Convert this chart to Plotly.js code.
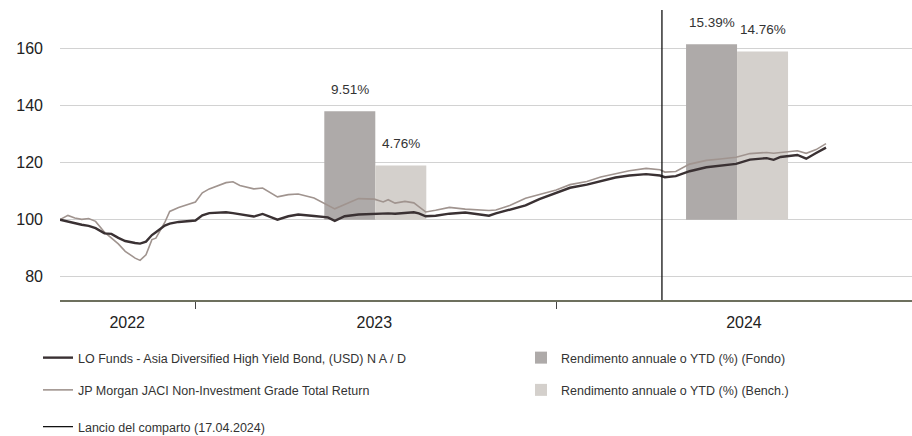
<!DOCTYPE html>
<html>
<head>
<meta charset="utf-8">
<script src="https://cdn.plot.ly/plotly-3.0.1.min.js"></script>
<style>
  html, body { margin: 0; padding: 0; background: #fff; }
  #chart { width: 912px; height: 436px; }
</style>
</head>
<body>
<div id="chart"></div>
<script>
// ---- data ----
const lineDates = ['2022-08-17','2022-08-25','2022-09-01','2022-09-08','2022-09-15','2022-09-22','2022-10-01','2022-10-08','2022-10-15','2022-10-22','2022-11-01','2022-11-06','2022-11-12','2022-11-18','2022-11-22','2022-12-01','2022-12-06','2022-12-15','2023-01-01','2023-01-08','2023-01-15','2023-02-01','2023-02-08','2023-02-15','2023-03-01','2023-03-10','2023-03-25','2023-04-05','2023-04-15','2023-05-01','2023-05-15','2023-05-22','2023-06-01','2023-06-15','2023-07-01','2023-07-10','2023-07-15','2023-07-22','2023-08-01','2023-08-10','2023-08-15','2023-08-22','2023-09-01','2023-09-15','2023-10-01','2023-10-15','2023-10-25','2023-11-01','2023-11-15','2023-12-01','2023-12-15','2024-01-01','2024-01-15','2024-02-01','2024-02-15','2024-03-01','2024-03-15','2024-04-01','2024-04-15','2024-04-20','2024-05-01','2024-05-15','2024-06-01','2024-06-15','2024-07-01','2024-07-15','2024-08-01','2024-08-08','2024-08-15','2024-09-01','2024-09-10','2024-09-20','2024-09-30'];

const fundValues = [100,99.3,98.8,98.2,97.8,97.0,95.2,95.0,93.6,92.5,91.8,91.6,92.3,94.6,95.6,97.9,98.6,99.2,99.7,101.5,102.3,102.6,102.3,101.9,101.1,102.0,100.0,101.2,101.8,101.3,100.8,99.6,101.2,101.8,102.0,102.3,102.2,102.1,102.4,102.6,102.2,101.2,101.4,102.1,102.5,102.0,101.4,102.2,103.5,105.0,107.2,109.4,111.2,112.3,113.4,114.8,115.5,116.0,115.5,114.9,115.3,117.0,118.4,119.0,119.6,121.1,121.6,121.0,122.0,122.7,121.4,123.4,125.3];

const benchValues = [100,101.5,100.6,100.1,100.4,99.4,95.6,93.5,91.5,88.9,86.5,85.7,87.7,93.0,93.5,99.0,102.9,104.3,106.2,109.4,110.8,113.0,113.3,112.0,110.8,111.1,108.0,108.8,109.0,107.6,105.2,103.8,105.3,107.4,107.2,106.2,107.0,105.8,106.4,105.9,104.6,102.7,103.3,104.3,103.7,103.5,103.2,103.4,105.0,107.5,108.9,110.4,112.3,113.4,115.0,116.2,117.2,118.0,117.5,116.7,116.9,119.5,120.8,121.3,121.9,123.2,123.6,123.3,123.6,124.2,123.3,124.6,126.7];

const barDates = ['2023-07-02', '2024-07-02'];
const fundReturns = [9.51, 15.39];
const benchReturns = [4.76, 14.76];

const launchDate = '2024-04-17';

const yearLabels = ['2022', '2023', '2024'];
const yearLabelDates = ['2022-10-24', '2023-07-01', '2024-07-09'];
const yearBoundaries = ['2023-01-01', '2024-01-01'];
const yTicks = [80, 100, 120, 140, 160];

const names = {
  fund: 'LO Funds - Asia Diversified High Yield Bond, (USD) N A / D',
  bench: 'JP Morgan JACI Non-Investment Grade Total Return',
  launch: 'Lancio del comparto (17.04.2024)',
  fundBar: 'Rendimento annuale o YTD (%) (Fondo)',
  benchBar: 'Rendimento annuale o YTD (%) (Bench.)'
};

// ---- styling ----
const FONT = '"Liberation Sans", Arial, Helvetica, sans-serif';
const lineRange = [71.8, 173.6];
const barScale = 4; // bar axis scale relative to line axis
const barRange = [(lineRange[0] - 100) / barScale, (lineRange[1] - 100) / barScale];
const BAR_W = 51.6 * 86400000;

const traces = [
  {
    type: 'bar', x: barDates, y: fundReturns, name: names.fundBar,
    xaxis: 'x', yaxis: 'y', width: BAR_W, offset: -BAR_W,
    marker: { color: '#aeaaa9', line: { width: 0 } },
    legend: 'legend2', legendgroup: 'b1', hoverinfo: 'skip'
  },
  {
    type: 'bar', x: barDates, y: benchReturns, name: names.benchBar,
    xaxis: 'x', yaxis: 'y', width: BAR_W, offset: 0,
    marker: { color: '#d4d0cc', line: { width: 0 } },
    legend: 'legend2', legendgroup: 'b2', hoverinfo: 'skip'
  },
  {
    type: 'scatter', mode: 'lines', x: lineDates, y: benchValues, name: names.bench,
    xaxis: 'x', yaxis: 'y2',
    line: { color: '#a0948f', width: 1.6 },
    legend: 'legend', legendgroup: 'l2', legendrank: 2, hoverinfo: 'skip'
  },
  {
    type: 'scatter', mode: 'lines', x: lineDates, y: fundValues, name: names.fund,
    xaxis: 'x', yaxis: 'y2',
    line: { color: '#3a3133', width: 2.4 },
    legend: 'legend', legendgroup: 'l1', legendrank: 1, hoverinfo: 'skip'
  },
  {
    type: 'scatter', mode: 'lines', x: [launchDate, launchDate], y: lineRange, name: names.launch,
    xaxis: 'x', yaxis: 'y2',
    line: { color: '#111111', width: 1.3 },
    legend: 'legend3', hoverinfo: 'skip'
  }
];

const annotations = [];
barDates.forEach((d, i) => {
  const t = new Date(d + 'T00:00:00Z').getTime();
  annotations.push({
    x: t - BAR_W / 2, y: fundReturns[i], xref: 'x', yref: 'y',
    text: fundReturns[i].toFixed(2) + '%', showarrow: false,
    yshift: 22, font: { family: FONT, size: 13.5, color: '#333' }
  });
  annotations.push({
    x: t + BAR_W / 2, y: benchReturns[i], xref: 'x', yref: 'y',
    text: benchReturns[i].toFixed(2) + '%', showarrow: false,
    yshift: 22, font: { family: FONT, size: 13.5, color: '#333' }
  });
});

const legendCommon = {
  orientation: 'v', xref: 'container', yref: 'container',
  xanchor: 'left', yanchor: 'top', bgcolor: 'rgba(0,0,0,0)',
  font: { family: FONT, size: 12.5, color: '#333' },
  tracegroupgap: 13, itemclick: false, itemdoubleclick: false
};

const layout = {
  width: 912, height: 436,
  margin: { l: 60, r: 0, t: 10, b: 136, autoexpand: false },
  paper_bgcolor: '#fff', plot_bgcolor: '#fff',
  font: { family: FONT, size: 13, color: '#222' },
  showlegend: true,
  barmode: 'overlay',
  xaxis: {
    type: 'date', range: ['2022-08-17', '2024-12-26'],
    tickmode: 'array', tickvals: yearLabelDates, ticktext: yearLabels,
    ticks: '', ticklabelstandoff: 7,
    tickfont: { family: FONT, size: 16, color: '#222' },
    showgrid: false, zeroline: false,
    showline: true, linecolor: '#6d705e', linewidth: 2,
    minor: { tickmode: 'array', tickvals: yearBoundaries, ticks: 'outside', ticklen: 7, tickwidth: 1, tickcolor: '#444', showgrid: false },
    fixedrange: true
  },
  yaxis: {
    range: barRange, visible: false, showgrid: false, zeroline: false, fixedrange: true
  },
  yaxis2: {
    overlaying: 'y', side: 'left', range: lineRange,
    tickmode: 'array', tickvals: yTicks,
    ticks: '', ticklabelstandoff: 16,
    tickfont: { family: FONT, size: 16, color: '#222' },
    showgrid: true, gridcolor: '#d2d2d2', gridwidth: 1.3,
    zeroline: false, showline: false, fixedrange: true
  },
  annotations: annotations,
  legend: Object.assign({}, legendCommon, { x: 38 / 912, y: 1 - 343 / 436 }),
  legend2: Object.assign({}, legendCommon, { x: 521 / 912, y: 1 - 343 / 436 }),
  legend3: Object.assign({}, legendCommon, { x: 38 / 912, y: 1 - 412 / 436 })
};

Plotly.newPlot('chart', traces, layout, { displayModeBar: false, staticPlot: true });
</script>
</body>
</html>
